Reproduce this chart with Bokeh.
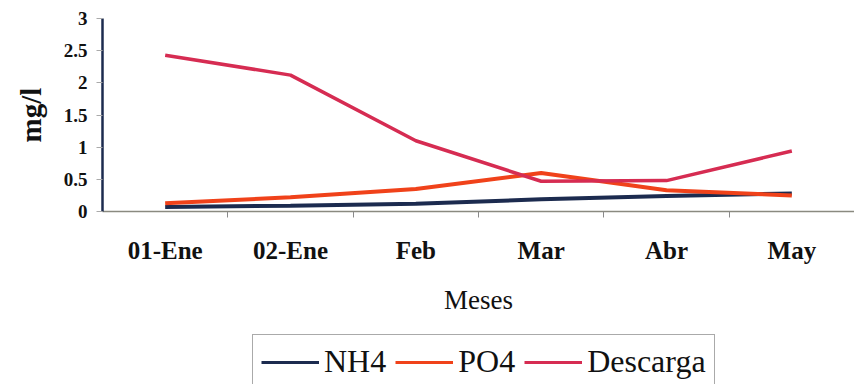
from bokeh.plotting import figure
from bokeh.layouts import column
from bokeh.models import FixedTicker, Legend, LegendItem, Range1d
from bokeh.embed import file_html
from bokeh.resources import INLINE

months = ["01-Ene", "02-Ene", "Feb", "Mar", "Abr", "May"]
nh4 = [0.07, 0.09, 0.12, 0.19, 0.24, 0.28]
po4 = [0.13, 0.22, 0.35, 0.60, 0.33, 0.25]
descarga = [2.43, 2.12, 1.10, 0.47, 0.48, 0.94]
y_ticks = [0, 0.5, 1, 1.5, 2, 2.5, 3]

xs = [i + 0.5 for i in range(len(months))]
bounds = [i for i in range(1, len(months))]

FONT = "Liberation Serif"
styles = [("NH4", nh4, "#1c2b4f", 4), ("PO4", po4, "#f0421a", 4),
          ("Descarga", descarga, "#d62c52", 3.5)]

p = figure(width=854, height=334, output_backend="svg", toolbar_location=None,
           x_range=Range1d(0, len(months)), y_range=Range1d(0, 3),
           min_border_left=102, min_border_right=0, min_border_top=18,
           min_border_bottom=123)
p.outline_line_color = None
p.xgrid.visible = False
p.ygrid.visible = False
p.background_fill_color = "white"
p.border_fill_color = "white"

for name, vals, col, lw in styles:
    p.line(xs, vals, line_color=col, line_width=lw)

# x axis
xa = p.xaxis[0]
xa.ticker = FixedTicker(ticks=xs, minor_ticks=bounds)
xa.major_label_overrides = {x: m for x, m in zip(xs, months)}
xa.major_tick_line_color = None
xa.major_tick_out = 0
xa.minor_tick_out = 6
xa.minor_tick_in = 0
xa.minor_tick_line_color = "#8a8a8a"
xa.axis_line_color = "#8a8a80"
xa.axis_line_width = 1.5
xa.major_label_text_font = FONT
xa.major_label_text_font_style = "bold"
xa.major_label_text_font_size = "25px"
xa.major_label_text_color = "#111111"
xa.major_label_standoff = 19
xa.axis_label = "Meses"
xa.axis_label_text_font = FONT
xa.axis_label_text_font_style = "normal"
xa.axis_label_text_font_size = "27px"
xa.axis_label_text_color = "#111111"
xa.axis_label_standoff = 18

# y axis
ya = p.yaxis[0]
ya.ticker = FixedTicker(ticks=y_ticks)
ya.axis_line_color = "#1c2b4f"
ya.axis_line_width = 2.5
ya.major_tick_line_color = "#aaaaaa"
ya.major_tick_out = 6
ya.major_tick_in = 0
ya.minor_tick_line_color = None
ya.major_label_text_font = FONT
ya.major_label_text_font_style = "bold"
ya.major_label_text_font_size = "19px"
ya.major_label_text_color = "#111111"
ya.major_label_standoff = 9
ya.axis_label = "mg/l"
ya.axis_label_text_font = FONT
ya.axis_label_text_font_style = "bold"
ya.axis_label_text_font_size = "29px"
ya.axis_label_text_color = "#111111"
ya.axis_label_standoff = 14

# legend strip below the chart (its lines sit outside its visible range)
q = figure(width=854, height=50, output_backend="svg", toolbar_location=None,
           x_range=Range1d(100, 101), y_range=Range1d(100, 101),
           x_axis_location=None, y_axis_location=None, min_border=0)
q.outline_line_color = None
q.xgrid.visible = False
q.ygrid.visible = False
items = []
for name, vals, col, lw in styles:
    r = q.line(xs, vals, line_color=col, line_width=3)
    items.append(LegendItem(label=name, renderers=[r]))

legend = Legend(items=items, location=(150, -5), orientation="horizontal")
legend.label_text_font = FONT
legend.label_text_font_size = "32px"
legend.label_text_color = "#111111"
legend.glyph_width = 58
legend.glyph_height = 30
legend.label_standoff = 5
legend.spacing = 9
legend.padding = 8
legend.margin = 0
legend.border_line_color = "#555555"
legend.border_line_width = 1
legend.background_fill_alpha = 1
q.add_layout(legend, "center")

layout = column(p, q, spacing=0)
open("out.html", "w").write(file_html(layout, INLINE))
